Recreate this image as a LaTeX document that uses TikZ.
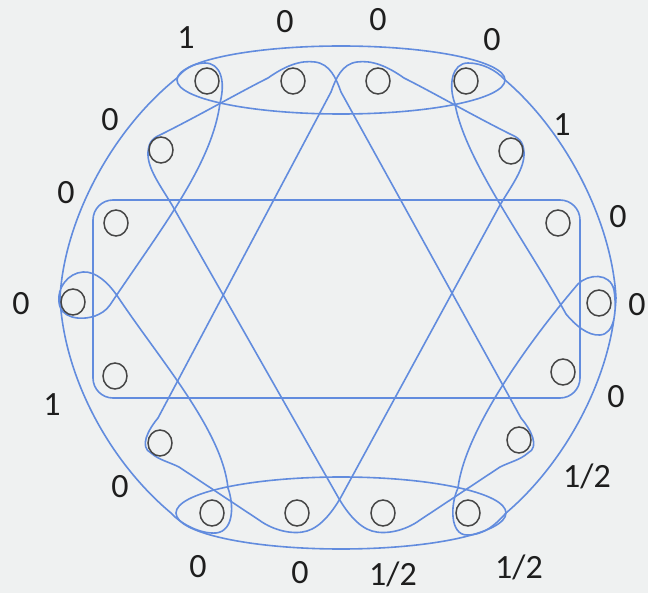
\documentclass[tikz,border=0pt]{standalone}
\usepackage{fontspec}
\setmainfont{Carlito}
\usetikzlibrary{shapes.geometric}
\definecolor{bg}{RGB}{239,241,241}
\definecolor{hedge}{RGB}{98,140,222}
\definecolor{vgray}{RGB}{70,70,70}
\definecolor{lblcol}{RGB}{30,30,30}
\begin{document}
\begin{tikzpicture}[x=1pt,y=-1pt,
  hyper/.style={draw=hedge, line width=1.6pt, line join=round},
  vtx/.style={draw=vgray, ellipse, minimum width=24pt, minimum height=26pt, inner sep=0pt, line width=1.5pt},
  lbl/.style={text=lblcol, inner sep=0pt, font=\fontsize{34}{40}\selectfont}]
\fill[bg] (0,0) rectangle (648,593);
\useasboundingbox (0,0) rectangle (648,593);

% hyperedges
\draw[hyper] (341,80) ellipse [x radius=164, y radius=34];
\draw[hyper] (341,513) ellipse [x radius=165, y radius=36];
\draw[hyper, rounded corners=20pt] (93,200) rectangle (580,398);

% left C  {T1, L2, B1}
\draw[hyper] (220,103) .. controls (226,80) and (220,63) .. (205,63)
  .. controls (193,63) and (183,70) .. (177,78)
  .. controls (112,130) and (64,220) .. (60,298)
  .. controls (64,378) and (110,462) .. (171,513)
  .. controls (181,524) and (200,534) .. (216,533)
  .. controls (234,531) and (234,505) .. (228,488)
  .. controls (222,430) and (160,360) .. (118,297)
  .. controls (108,282) and (95,271) .. (83,272)
  .. controls (68,273) and (57,288) .. (59,302)
  .. controls (60,318) and (80,321) .. (95,316)
  .. controls (100,314) and (106,311) .. (110,305)
  .. controls (160,230) and (212,165) .. (220,103) -- cycle;

% right C  {T4, R2, B4}
\draw[hyper] (455,104) .. controls (448,85) and (452,63) .. (468,63)
  .. controls (482,63) and (496,70) .. (505,80)
  .. controls (566,132) and (612,222) .. (616,298)
  .. controls (612,376) and (566,462) .. (506,513)
  .. controls (496,524) and (485,535) .. (467,535)
  .. controls (450,535) and (450,505) .. (458,488)
  .. controls (465,430) and (530,340) .. (578,284)
  .. controls (588,274) and (610,272) .. (614,290)
  .. controls (617,310) and (615,334) .. (600,335)
  .. controls (588,336) and (575,325) .. (566,314)
  .. controls (525,240) and (465,160) .. (455,104) -- cycle;

% kite {UL, T2, LR, B3}
\draw[hyper] (162,134) .. controls (200,115) and (240,92) .. (268,78)
  .. controls (285,66) and (300,60) .. (315,62)
  .. controls (330,64) and (336,78) .. (341,92)
  -- (521,418)
  .. controls (531,430) and (540,447) .. (528,453)
  .. controls (520,460) and (510,462) .. (500,467)
  -- (420,520)
  .. controls (405,531) and (385,535) .. (372,531)
  .. controls (358,527) and (346,511) .. (338,497)
  -- (172,205)
  .. controls (160,185) and (147,168) .. (148,152)
  .. controls (149,141) and (153,138) .. (162,134) -- cycle;

% kite {UR, T3, LL, B2}
\draw[hyper] (510,134) .. controls (472,115) and (432,92) .. (404,78)
  .. controls (387,66) and (372,60) .. (357,62)
  .. controls (342,64) and (336,78) .. (331,92)
  -- (158,418)
  .. controls (148,430) and (139,447) .. (151,453)
  .. controls (159,460) and (169,462) .. (179,467)
  -- (259,520)
  .. controls (274,531) and (294,535) .. (307,531)
  .. controls (321,527) and (333,511) .. (341,497)
  -- (500,205)
  .. controls (512,185) and (525,168) .. (524,152)
  .. controls (523,141) and (519,138) .. (510,134) -- cycle;

% vertices
\node[vtx] (t1) at (207,81) {};
\node[vtx] (t2) at (293,81) {};
\node[vtx] (t3) at (378,81) {};
\node[vtx] (t4) at (466,81) {};
\node[vtx] (ul) at (161,150) {};
\node[vtx] (ur) at (511,151) {};
\node[vtx] (l1) at (116,223) {};
\node[vtx] (l2) at (73,302) {};
\node[vtx] (l3) at (115,376) {};
\node[vtx] (r1) at (558,223) {};
\node[vtx] (r2) at (599,303) {};
\node[vtx] (r3) at (563,372) {};
\node[vtx] (ll) at (160,443) {};
\node[vtx] (lr) at (519,440) {};
\node[vtx] (b1) at (212,513) {};
\node[vtx] (b2) at (297,513) {};
\node[vtx] (b3) at (383,513) {};
\node[vtx] (b4) at (468,513) {};

% labels
\node[lbl] (xt1) at (186,38) {1};
\node[lbl] (xt2) at (285,22) {0};
\node[lbl] (xt3) at (378,20) {0};
\node[lbl] (xt4) at (492,40) {0};
\node[lbl] (xul) at (110,120) {0};
\node[lbl] (xur) at (562,125) {1};
\node[lbl] (xl1) at (66,193) {0};
\node[lbl] (xr1) at (618,217) {0};
\node[lbl] (xl2) at (21,304) {0};
\node[lbl] (xr2) at (637,305) {0};
\node[lbl] (xl3) at (52,405) {1};
\node[lbl] (xr3) at (616,397) {0};
\node[lbl] (xll) at (120,487) {0};
\node[lbl] (xlr) at (587,476) {1/2};
\node[lbl] (xb1) at (198,567) {0};
\node[lbl] (xb2) at (300,573) {0};
\node[lbl] (xb3) at (393,574) {1/2};
\node[lbl] (xb4) at (519,567) {1/2};
\end{tikzpicture}
\end{document}
